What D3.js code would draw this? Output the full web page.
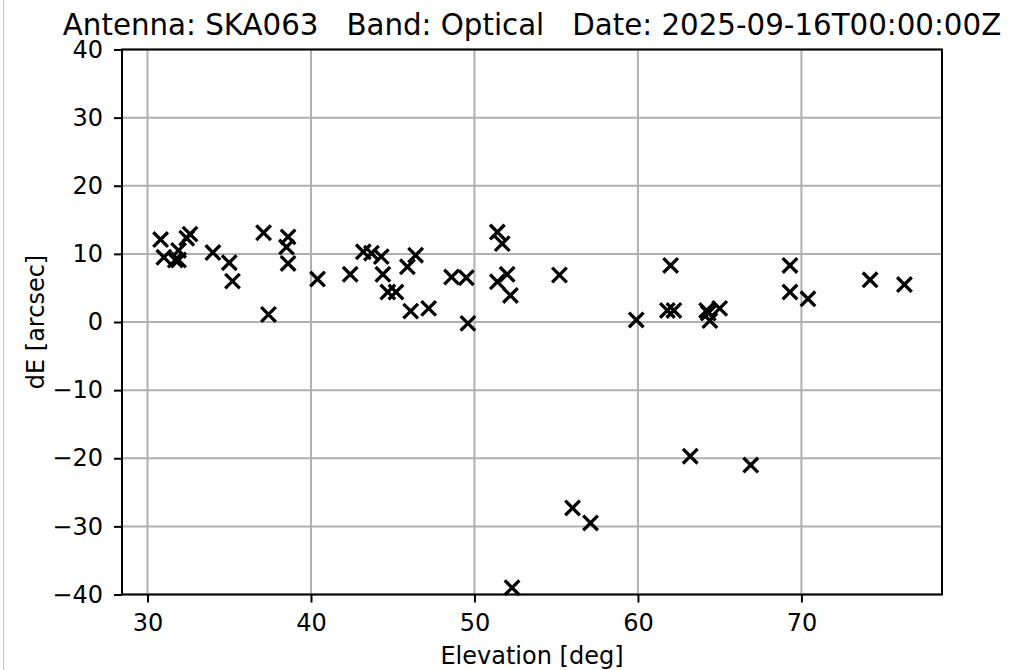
<!DOCTYPE html>
<html>
<head>
<meta charset="utf-8">
<script src="https://cdn.jsdelivr.net/npm/d3@7"></script>
<style>
  body { margin: 0; background: #fff; }
  #chart { width: 1025px; height: 670px; }
  text { font-family: "DejaVu Sans", sans-serif; fill: #000; white-space: pre; }
</style>
</head>
<body>
<div id="chart"></div>
<script>
// elevation [deg] and dE [arcsec]
const elevation = [30.8, 31.0, 31.7, 31.9, 31.9, 32.4, 32.6, 34.0, 35.0, 35.2,
  37.1, 37.4, 38.6, 38.5, 38.6, 40.4, 42.4, 43.2, 43.7, 44.3,
  44.4, 44.7, 45.2, 45.9, 46.4, 46.1, 47.2, 48.6, 49.5, 49.6,
  51.4, 51.7, 51.4, 52.0, 52.2, 52.3, 55.2, 56.0, 57.1, 59.9,
  62.0, 61.8, 62.2, 63.2, 64.2, 64.3, 64.4, 65.0, 66.9, 69.3,
  69.3, 70.4, 74.2, 76.3];
const dE = [12.1, 9.5, 9.1, 10.5, 9.1, 12.3, 12.9, 10.2, 8.7, 6.0,
  13.1, 1.1, 12.5, 11.0, 8.6, 6.3, 7.0, 10.3, 10.1, 9.6,
  7.0, 4.4, 4.4, 8.1, 9.8, 1.6, 2.0, 6.6, 6.5, -0.2,
  13.2, 11.5, 5.9, 7.0, 3.9, -39.0, 6.9, -27.3, -29.5, 0.3,
  8.3, 1.7, 1.7, -19.7, 1.7, 1.3, 0.2, 2.0, -21.0, 8.3,
  4.4, 3.4, 6.2, 5.5];
const xTicks = [30, 40, 50, 60, 70];
const yTicks = [-40, -30, -20, -10, 0, 10, 20, 30, 40];
const title = "Antenna: SKA063   Band: Optical   Date: 2025-09-16T00:00:00Z";

const points = elevation.map((e, i) => ({ x: e, y: dE[i] }));

const margin = { top: 49.5, right: 83, bottom: 75.5, left: 122 };
const width = 1025 - margin.left - margin.right;
const height = 670 - margin.top - margin.bottom;

const root = d3.select("#chart").append("svg")
  .attr("width", 1025)
  .attr("height", 670);

// faint frame line at the left edge of the picture
root.append("line")
  .attr("x1", 3.5).attr("x2", 3.5).attr("y1", 0).attr("y2", 670)
  .attr("stroke", "#c8c8c8").attr("stroke-width", 1);

const svg = root.append("g")
  .attr("transform", "translate(" + margin.left + "," + margin.top + ")");

const x = d3.scaleLinear().domain([28.44, 78.6]).range([0, width]);
const y = d3.scaleLinear().domain([-40, 40]).range([height, 0]);

// grid
svg.append("g")
  .selectAll("line")
  .data(xTicks)
  .enter()
  .append("line")
  .attr("x1", d => x(d)).attr("x2", d => x(d))
  .attr("y1", 0).attr("y2", height)
  .attr("stroke", "#b0b0b0").attr("stroke-width", 2);

svg.append("g")
  .selectAll("line")
  .data(yTicks)
  .enter()
  .append("line")
  .attr("x1", 0).attr("x2", width)
  .attr("y1", d => y(d)).attr("y2", d => y(d))
  .attr("stroke", "#b0b0b0").attr("stroke-width", 2);

// markers
const s = 7.3;
svg.append("g")
  .selectAll("path")
  .data(points)
  .enter()
  .append("path")
  .attr("d", d => {
    const cx = x(d.x), cy = y(d.y);
    return "M" + (cx - s) + "," + (cy - s) + "L" + (cx + s) + "," + (cy + s) +
      "M" + (cx - s) + "," + (cy + s) + "L" + (cx + s) + "," + (cy - s);
  })
  .attr("stroke", "#000")
  .attr("stroke-width", 3.3)
  .attr("fill", "none");

// frame
svg.append("rect")
  .attr("width", width).attr("height", height)
  .attr("fill", "none").attr("stroke", "#000").attr("stroke-width", 2);

const fmt = d => d < 0 ? "\u2212" + Math.abs(d) : String(d);

const xAxis = svg.append("g")
  .attr("transform", "translate(0," + height + ")")
  .call(d3.axisBottom(x).tickValues(xTicks).tickSize(8).tickPadding(11).tickFormat(fmt));

const yAxis = svg.append("g")
  .call(d3.axisLeft(y).tickValues(yTicks).tickSize(8).tickPadding(11).tickFormat(fmt));

[xAxis, yAxis].forEach(a => {
  a.select(".domain").remove();
  a.selectAll(".tick line").attr("stroke", "#000").attr("stroke-width", 2);
  a.selectAll(".tick text")
    .style("font-family", "'DejaVu Sans', sans-serif")
    .style("font-size", "24px")
    .attr("fill", "#000");
});

svg.append("text")
  .attr("x", width / 2)
  .attr("y", height + 69)
  .attr("text-anchor", "middle")
  .style("font-size", "24px")
  .text("Elevation [deg]");

svg.append("text")
  .attr("transform", "rotate(-90)")
  .attr("x", -height / 2)
  .attr("y", -78)
  .attr("text-anchor", "middle")
  .style("font-size", "24px")
  .text("dE [arcsec]");

svg.append("text")
  .attr("x", width / 2)
  .attr("y", -15)
  .attr("text-anchor", "middle")
  .style("font-size", "29.3px")
  .text(title);
</script>
</body>
</html>
